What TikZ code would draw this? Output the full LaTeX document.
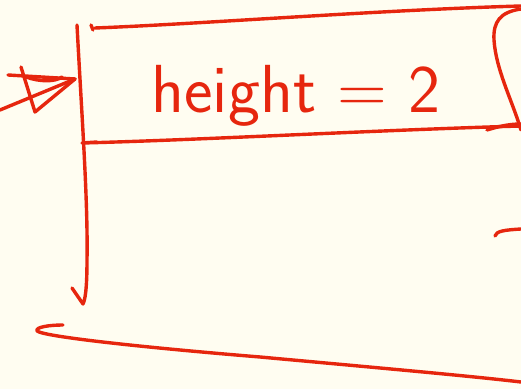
\documentclass[tikz,border=0pt]{standalone}
\usepackage{tikz}

\definecolor{ink}{RGB}{230,38,14}
\definecolor{paper}{RGB}{255,253,241}

\begin{document}
\begin{tikzpicture}[x=0.5pt, y=-0.5pt,
    pen/.style={draw=ink, line width=1.7pt, line cap=round, line join=round},
    handtext/.style={text=ink, font=\sffamily\fontsize{34}{38}\selectfont, inner sep=0pt}]

  \fill[paper] (0,0) rectangle (521,389);
  \useasboundingbox (0,0) rectangle (521,389);

  \node[handtext] (hgt) at (296,96) {height = 2};

  \coordinate (tail) at (0,110);
  \coordinate (tip) at (75,79);
  \coordinate (vtop) at (77,25);
  \coordinate (vend) at (83,304);

  % box edges
  \draw[pen] (91,25) -- (93,30);
  \draw[pen] (95,28) .. controls (200,24) and (380,10) .. (521,6);
  \draw[pen] (521,9) .. controls (500,12) and (493,22) .. (494,40)
             .. controls (496,70) and (512,100) .. (521,130);
  \draw[pen] (97,142) -- (82,143) .. controls (200,140) and (380,130) .. (521,126);
  \draw[pen] (487,130) .. controls (500,126) and (510,124) .. (521,124);

  % arrow into the box
  \draw[pen] (tail) -- (tip);
  \draw[pen] (8,75) -- (tip);
  \draw[pen] (21,67) -- (35,112) -- (tip);
  \draw[pen] (26,77) .. controls (40,82) and (55,82) .. (62,77);

  % down arrow
  \draw[pen] (vtop) .. controls (82,120) and (88,200) .. (87,260)
             .. controls (87,290) and (85,300) .. (vend) -- (72,288);

  % bottom stroke
  \draw[pen] (63,325) .. controls (50,325) and (35,327) .. (37,331)
             .. controls (45,337) and (150,348) .. (260,357)
             .. controls (380,368) and (470,376) .. (521,382);
  \draw[pen] (495,236) .. controls (496,231) and (505,230) .. (521,229);
\end{tikzpicture}
\end{document}
